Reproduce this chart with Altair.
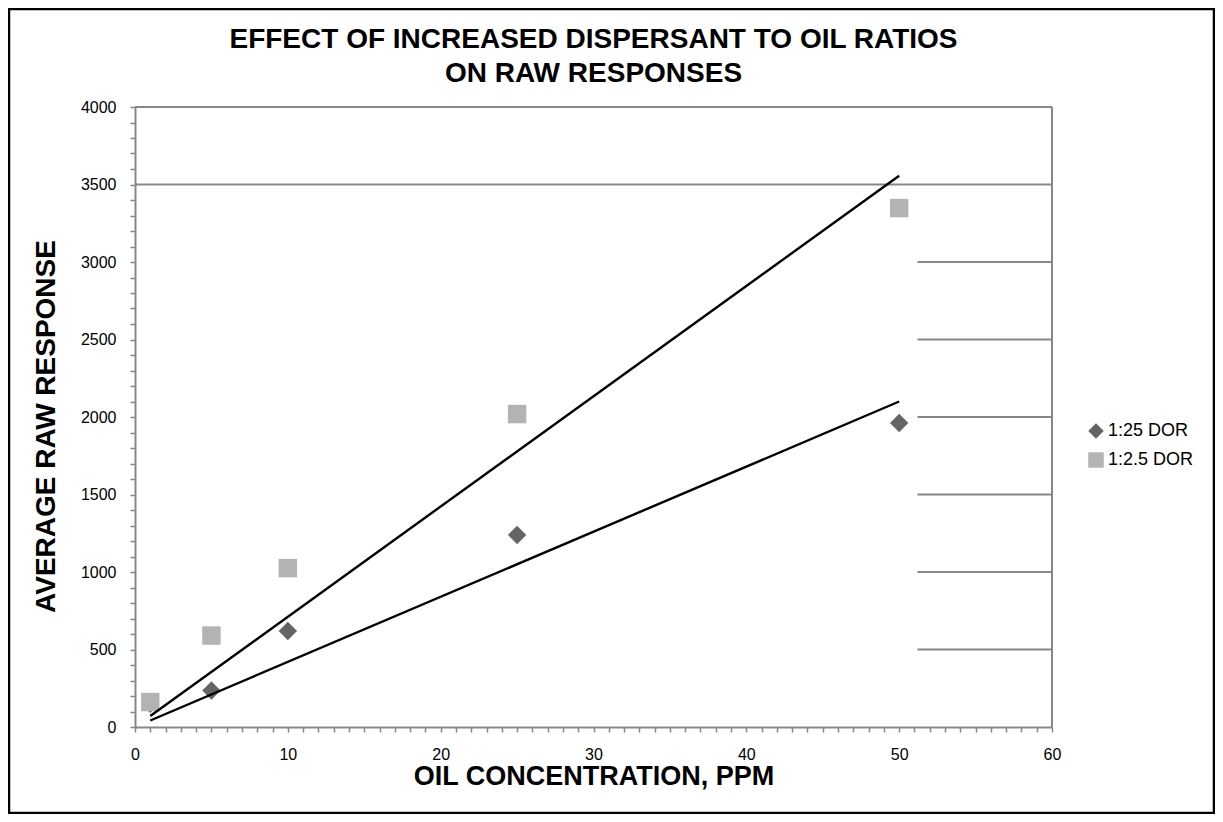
import altair as alt
import pandas as pd

# ---- data ----
x_ppm = [1, 5, 10, 25, 50]
dor_25 = [150, 235, 619, 1239, 1961]
dor_2_5 = [161, 590, 1025, 2019, 3348]
series_names = ["1:25 DOR", "1:2.5 DOR"]
series_colors = ["#646464", "#b3b3b3"]
series_shapes = ["diamond", "square"]

x_ticks = list(range(0, 61, 1))
y_ticks = list(range(0, 4001, 100))
grid_values = [500, 1000, 1500, 2000, 2500, 3000, 3500, 4000]
grid_from = [51.2, 51.2, 51.2, 51.2, 51.2, 51.2, 0, 0]

FONT = "Liberation Sans"
GRAY = "#878787"

rows = []
for name, ys in zip(series_names, [dor_25, dor_2_5]):
    for x, y in zip(x_ppm, ys):
        rows.append({"series": name, "x": x, "y": y, "k": series_names.index(name)})
pts = pd.DataFrame(rows)

# linear trend lines forced through the origin (as in the reference)
trend_rows = []
for name, ys in zip(series_names, [dor_25, dor_2_5]):
    slope = sum(a * b for a, b in zip(x_ppm, ys)) / sum(a * a for a in x_ppm)
    for x in (min(x_ppm), max(x_ppm)):
        trend_rows.append({"series": name, "x": x, "y": slope * x})
trend = pd.DataFrame(trend_rows)

grid = pd.DataFrame({"y": grid_values, "x0": grid_from, "x1": [60] * len(grid_values)})

xs = alt.Scale(domain=[0, 60], nice=False, zero=False)
ys_ = alt.Scale(domain=[0, 4000], nice=False, zero=False)

x_axis = alt.Axis(
    values=x_ticks, labelExpr="datum.value % 10 === 0 ? datum.label : ''",
    grid=False, domainColor=GRAY, domainWidth=2, tickColor=GRAY, tickWidth=1.5,
    tickSize=5, labelPadding=14, labelFont=FONT, labelFontSize=16, labelColor="black",
    labelOverlap=False, labelFlush=False,
    title="OIL CONCENTRATION, PPM", titleFont=FONT, titleFontSize=27,
    titleFontWeight="bold", titleColor="black", titleX=458.5, titleY=49,
    titleBaseline="middle", titleAlign="center",
)
y_axis = alt.Axis(
    values=y_ticks, labelExpr="datum.value % 500 === 0 ? datum.label : ''",
    format="d", grid=False, domainColor=GRAY, domainWidth=2, tickColor=GRAY,
    tickWidth=1.5, tickSize=5, labelPadding=14, labelFont=FONT, labelFontSize=16,
    labelColor="black", labelOverlap=False, labelFlush=False,
    title="AVERAGE RAW RESPONSE", titleFont=FONT, titleFontSize=28,
    titleFontWeight="bold", titleColor="black", titleX=-89, titleY=319,
    titleBaseline="middle", titleAlign="center", titleAngle=270,
)

legend = alt.Legend(
    orient="none", legendX=952, legendY=315, title=None,
    symbolSize=240, symbolStrokeWidth=0, symbolOpacity=1,
    labelFont=FONT, labelFontSize=18, labelColor="black",
    rowPadding=11, labelOffset=3,
)

grid_layer = alt.Chart(grid).mark_rule(color=GRAY, strokeWidth=2).encode(
    x=alt.X("x0:Q", scale=xs, axis=x_axis),
    x2="x1:Q",
    y=alt.Y("y:Q", scale=ys_, axis=y_axis),
)

right_edge = alt.Chart(pd.DataFrame({"x": [60], "y0": [0], "y1": [4000]})).mark_rule(
    color=GRAY, strokeWidth=2
).encode(
    x=alt.X("x:Q", scale=xs, axis=x_axis),
    y=alt.Y("y0:Q", scale=ys_, axis=y_axis),
    y2="y1:Q",
)

points = alt.Chart(pts).mark_point(filled=True, opacity=1, size=340, strokeWidth=0).encode(
    x=alt.X("x:Q", scale=xs, axis=x_axis),
    y=alt.Y("y:Q", scale=ys_, axis=y_axis),
    color=alt.Color("series:N", scale=alt.Scale(domain=series_names, range=series_colors), legend=legend),
    shape=alt.Shape("series:N", scale=alt.Scale(domain=series_names, range=series_shapes), legend=legend),
    order=alt.Order("k:Q"),
)

lines = alt.Chart(trend).mark_line(color="black", strokeWidth=2.4).encode(
    x=alt.X("x:Q", scale=xs, axis=x_axis),
    y=alt.Y("y:Q", scale=ys_, axis=y_axis),
    detail="series:N",
)

border = alt.Chart(pd.DataFrame({"a": [0]})).mark_rect(
    fillOpacity=0, stroke="black", strokeWidth=2.5
).encode(
    x=alt.value(-126), x2=alt.value(1079), y=alt.value(-98), y2=alt.value(706)
)

chart = alt.layer(grid_layer, right_edge, points, lines, border).properties(
    width=917, height=620,
    padding={"left": 127, "top": 99, "right": 163, "bottom": 87},
    autosize=alt.AutoSizeParams(type="none"),
    title=alt.TitleParams(
        text=["EFFECT OF INCREASED DISPERSANT TO OIL RATIOS", "ON RAW RESPONSES"],
        font=FONT, fontSize=28, fontWeight="bold", color="black",
        anchor="middle", frame="group", lineHeight=34, baseline="bottom", offset=-108,
    ),
).configure_view(stroke=None).configure(background="white")

chart.save("out.html", embed_options={"renderer": "svg", "actions": False})
